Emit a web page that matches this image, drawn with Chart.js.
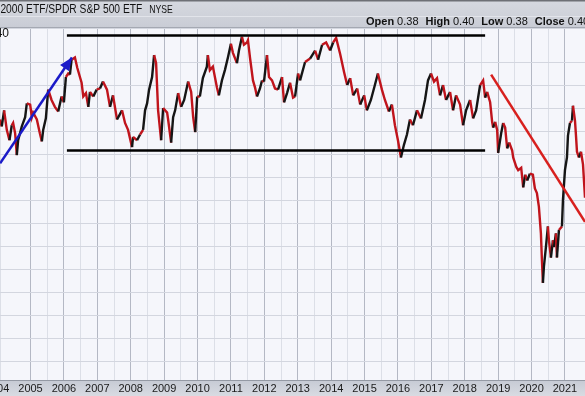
<!DOCTYPE html>
<html>
<head>
<meta charset="utf-8">
<script src="https://cdn.jsdelivr.net/npm/chart.js@4.4.1/dist/chart.umd.min.js"></script>
<style>
  html, body { margin: 0; padding: 0; background: #fff; overflow: hidden; }
  canvas { display: block; }
</style>
</head>
<body>
<canvas id="ratioChart" width="585" height="396"></canvas>
<script>
// weekly-ish close of the ratio (decimal years)
const dates = [
  2004.09, 2004.14, 2004.21, 2004.29, 2004.37, 2004.44, 2004.48, 2004.54, 2004.59, 2004.63,
  2004.74, 2004.84, 2004.89, 2004.99, 2005.04, 2005.08, 2005.19, 2005.28, 2005.34, 2005.38,
  2005.46, 2005.53, 2005.63, 2005.73, 2005.83, 2005.93, 2006.00, 2006.06, 2006.13, 2006.18,
  2006.23, 2006.33, 2006.40, 2006.48, 2006.53, 2006.58, 2006.66, 2006.73, 2006.78, 2006.88,
  2006.98, 2007.08, 2007.17, 2007.29, 2007.38, 2007.47, 2007.59, 2007.74, 2007.83, 2007.92,
  2008.04, 2008.07, 2008.19, 2008.28, 2008.37, 2008.43, 2008.49, 2008.55, 2008.64, 2008.70,
  2008.76, 2008.82, 2008.91, 2008.97, 2009.09, 2009.12, 2009.21, 2009.27, 2009.33, 2009.42,
  2009.51, 2009.60, 2009.72, 2009.81, 2009.87, 2009.93, 2009.99, 2010.07, 2010.16, 2010.28,
  2010.31, 2010.37, 2010.46, 2010.58, 2010.64, 2010.73, 2010.82, 2010.91, 2011.00, 2011.06,
  2011.18, 2011.24, 2011.33, 2011.39, 2011.48, 2011.51, 2011.57, 2011.66, 2011.72, 2011.78,
  2011.87, 2011.93, 2011.99, 2012.08, 2012.14, 2012.23, 2012.32, 2012.41, 2012.53, 2012.59,
  2012.68, 2012.77, 2012.86, 2012.92, 2013.01, 2013.07, 2013.22, 2013.37, 2013.52, 2013.61,
  2013.73, 2013.85, 2013.97, 2014.06, 2014.15, 2014.27, 2014.39, 2014.48, 2014.57, 2014.66,
  2014.78, 2014.87, 2014.99, 2015.07, 2015.19, 2015.31, 2015.40, 2015.52, 2015.61, 2015.73,
  2015.82, 2015.91, 2016.00, 2016.09, 2016.18, 2016.27, 2016.36, 2016.45, 2016.57, 2016.69,
  2016.81, 2016.90, 2016.99, 2017.08, 2017.17, 2017.26, 2017.35, 2017.44, 2017.56, 2017.65,
  2017.74, 2017.86, 2017.95, 2018.04, 2018.16, 2018.25, 2018.34, 2018.46, 2018.55, 2018.61,
  2018.67, 2018.76, 2018.82, 2018.85, 2018.91, 2018.97, 2019.00, 2019.09, 2019.15, 2019.21,
  2019.27, 2019.33, 2019.42, 2019.45, 2019.54, 2019.60, 2019.69, 2019.75, 2019.81, 2019.87,
  2019.95, 2020.04, 2020.10, 2020.16, 2020.22, 2020.28, 2020.31, 2020.34, 2020.37, 2020.43,
  2020.49, 2020.52, 2020.58, 2020.64, 2020.67, 2020.73, 2020.76, 2020.82, 2020.91, 2020.94,
  2021.00, 2021.06, 2021.09, 2021.15, 2021.21, 2021.24, 2021.30, 2021.33, 2021.36, 2021.42,
  2021.48, 2021.54, 2021.60
];
const ratio = [
  0.590, 0.584, 0.598, 0.581, 0.572, 0.585, 0.587, 0.578, 0.559, 0.572,
  0.584, 0.592, 0.604, 0.603, 0.592, 0.596, 0.590, 0.578, 0.571, 0.581,
  0.591, 0.616, 0.607, 0.601, 0.597, 0.610, 0.605, 0.627, 0.630, 0.629,
  0.642, 0.644, 0.635, 0.627, 0.622, 0.610, 0.613, 0.601, 0.614, 0.610,
  0.616, 0.617, 0.623, 0.616, 0.601, 0.611, 0.590, 0.598, 0.587, 0.581,
  0.566, 0.575, 0.572, 0.577, 0.581, 0.598, 0.604, 0.616, 0.627, 0.646,
  0.639, 0.598, 0.572, 0.600, 0.596, 0.590, 0.570, 0.592, 0.598, 0.613,
  0.601, 0.607, 0.623, 0.614, 0.592, 0.579, 0.610, 0.610, 0.626, 0.636,
  0.646, 0.633, 0.636, 0.618, 0.611, 0.624, 0.633, 0.644, 0.656, 0.648,
  0.639, 0.650, 0.662, 0.655, 0.657, 0.659, 0.644, 0.624, 0.618, 0.610,
  0.617, 0.624, 0.623, 0.646, 0.627, 0.624, 0.617, 0.616, 0.627, 0.605,
  0.613, 0.622, 0.609, 0.610, 0.630, 0.624, 0.640, 0.643, 0.650, 0.642,
  0.655, 0.657, 0.650, 0.657, 0.661, 0.647, 0.631, 0.620, 0.626, 0.611,
  0.617, 0.603, 0.611, 0.598, 0.607, 0.620, 0.630, 0.616, 0.607, 0.597,
  0.603, 0.585, 0.572, 0.557, 0.568, 0.577, 0.590, 0.585, 0.598, 0.591,
  0.607, 0.624, 0.630, 0.623, 0.626, 0.611, 0.620, 0.607, 0.614, 0.598,
  0.611, 0.603, 0.585, 0.598, 0.607, 0.591, 0.598, 0.620, 0.624, 0.609,
  0.614, 0.605, 0.588, 0.583, 0.588, 0.581, 0.561, 0.578, 0.587, 0.583,
  0.565, 0.570, 0.563, 0.557, 0.549, 0.546, 0.548, 0.531, 0.542, 0.537,
  0.543, 0.542, 0.530, 0.526, 0.514, 0.491, 0.468, 0.448, 0.462, 0.479,
  0.497, 0.485, 0.470, 0.485, 0.479, 0.491, 0.470, 0.494, 0.497, 0.520,
  0.546, 0.557, 0.576, 0.587, 0.589, 0.602, 0.589, 0.576, 0.562, 0.557,
  0.562, 0.551, 0.522
];

// hand-drawn annotations
const channelDates = [2006.09, 2018.61];
const channelTop = [0.663, 0.663];
const channelBottom = [0.563, 0.563];
const arrowDates = [2004.09, 2006.24];
const arrowValues = [0.552, 0.644];
const trendDates = [2018.79, 2021.60];
const trendValues = [0.629, 0.501];

const yearLabels = ['2004', '2005', '2006', '2007', '2008', '2009', '2010', '2011', '2012',
  '2013', '2014', '2015', '2016', '2017', '2018', '2019', '2020', '2021'];

const title = 'iShares Russell 2000 ETF/SPDR S&P 500 ETF';
const ohlcLabels = ['Open', 'High', 'Low', 'Close'];
const ohlcValues = ['0.38', '0.40', '0.38', '0.40'];
const lastValue = '0.40';

const RED = '#c0141c';
const pairs = (xs, ys) => xs.map((x, i) => ({ x: x, y: ys[i] }));

const chromePlugin = {
  id: 'chrome',
  beforeDraw(chart) {
    const { ctx, chartArea: a } = chart;
    ctx.save();
    ctx.fillStyle = '#f5f6fb';
    ctx.fillRect(a.left, a.top, a.right - a.left, a.bottom - a.top);
    ctx.restore();
  },
  afterDatasetsDraw(chart) {
    // arrow head on the blue line
    const { ctx } = chart;
    const xs = chart.scales.x, ys = chart.scales.y;
    const x0 = xs.getPixelForValue(arrowDates[0]), y0 = ys.getPixelForValue(arrowValues[0]);
    const x1 = xs.getPixelForValue(arrowDates[1]), y1 = ys.getPixelForValue(arrowValues[1]);
    const ang = Math.atan2(y1 - y0, x1 - x0);
    const len = 13, half = 5.5;
    ctx.save();
    ctx.fillStyle = '#1a1ac8';
    ctx.beginPath();
    ctx.moveTo(x1, y1);
    ctx.lineTo(x1 - len * Math.cos(ang) + half * Math.sin(ang), y1 - len * Math.sin(ang) - half * Math.cos(ang));
    ctx.lineTo(x1 - len * Math.cos(ang) - half * Math.sin(ang), y1 - len * Math.sin(ang) + half * Math.cos(ang));
    ctx.closePath();
    ctx.fill();
    ctx.restore();
  },
  afterDraw(chart) {
    const { ctx, width, height, chartArea: a } = chart;
    const xs = chart.scales.x;
    ctx.save();

    // header band
    const g = ctx.createLinearGradient(0, 0, 0, a.top);
    g.addColorStop(0, '#d6d9e0');
    g.addColorStop(1, '#c9ccd5');
    ctx.fillStyle = g;
    ctx.fillRect(0, 0, width, a.top);
    ctx.fillStyle = '#6e7076';
    ctx.fillRect(0, 0, width, 1.5);
    ctx.fillStyle = '#e2e4ea';
    ctx.fillRect(0, 16, width, 1);
    ctx.fillStyle = '#a4a8b2';
    ctx.fillRect(0, a.top - 1, width, 1);

    ctx.fillStyle = '#111';
    ctx.textBaseline = 'middle';
    // title is set in a narrow face: squeeze it horizontally
    ctx.save();
    ctx.scale(0.82, 1);
    ctx.font = '12.5px "Liberation Sans", Arial, sans-serif';
    const cut = ctx.measureText('iShares Russell ').width;
    ctx.fillText(title, -cut + 0.5, 9.5);
    const tw = ctx.measureText(title).width;
    ctx.font = '10.5px "Liberation Sans", Arial, sans-serif';
    ctx.fillText('NYSE', -cut + tw + 9, 10);
    ctx.restore();

    let x = 366;
    ohlcLabels.forEach((lab, i) => {
      ctx.font = 'bold 11px "Liberation Sans", Arial, sans-serif';
      ctx.fillText(lab, x, 22);
      x += ctx.measureText(lab).width + 3;
      ctx.font = '11px "Liberation Sans", Arial, sans-serif';
      ctx.fillText(ohlcValues[i], x, 22);
      x += ctx.measureText(ohlcValues[i]).width + 7;
    });

    // last value tag, cut off at the left edge
    ctx.font = '12px "Liberation Sans", Arial, sans-serif';
    ctx.textAlign = 'right';
    ctx.fillText(lastValue, 9, 34);

    // bottom date band
    const g2 = ctx.createLinearGradient(0, a.bottom, 0, height);
    g2.addColorStop(0, '#c6cad4');
    g2.addColorStop(1, '#d8dbe2');
    ctx.fillStyle = g2;
    ctx.fillRect(0, a.bottom, width, height - a.bottom);
    ctx.fillStyle = '#9499a4';
    ctx.fillRect(0, a.bottom, width, 1);
    ctx.fillStyle = '#1a1a1a';
    ctx.textAlign = 'center';
    ctx.font = '11px "Liberation Sans", Arial, sans-serif';
    yearLabels.forEach(y => {
      ctx.fillText(y, xs.getPixelForValue(Number(y)), 388.5);
    });
    ctx.restore();
  }
};

const ctx = document.getElementById('ratioChart').getContext('2d');
const myChart = new Chart(ctx, {
  type: 'line',
  data: {
    datasets: [
      {
        data: pairs(dates, ratio),
        borderWidth: 2.4,
        borderColor: RED,
        segment: {
          borderColor: c => c.p1.parsed.y > c.p0.parsed.y + 0.004 ? '#151515' : RED
        },
        pointRadius: 0,
        tension: 0,
        order: 2
      },
      { data: pairs(channelDates, channelTop), borderColor: '#000', borderWidth: 2.5, pointRadius: 0, order: 1 },
      { data: pairs(channelDates, channelBottom), borderColor: '#000', borderWidth: 2.5, pointRadius: 0, order: 1 },
      { data: pairs(arrowDates, arrowValues), borderColor: '#1a1ac8', borderWidth: 2.5, pointRadius: 0, order: 1 },
      { data: pairs(trendDates, trendValues), borderColor: '#d8201e', borderWidth: 2.5, pointRadius: 0, order: 1 }
    ]
  },
  options: {
    responsive: false,
    animation: false,
    devicePixelRatio: 1,
    layout: { padding: { top: 28, bottom: 16, left: 0, right: 0 } },
    plugins: { legend: { display: false }, tooltip: { enabled: false } },
    scales: {
      x: {
        type: 'linear',
        min: 2004.087,
        max: 2021.6,
        ticks: { display: false, stepSize: 0.5 },
        border: { display: false },
        grid: {
          drawTicks: false,
          lineWidth: 1,
          color: c => (c.tick && Math.abs(c.tick.value % 1) < 0.01) ? '#b4b8c4' : '#dcdfe7'
        }
      },
      y: {
        min: 0.3635,
        max: 0.6696,
        ticks: { display: false, stepSize: 0.02 },
        border: { display: false },
        grid: { drawTicks: false, color: '#d3d6df' }
      }
    }
  },
  plugins: [chromePlugin]
});
</script>
</body>
</html>
